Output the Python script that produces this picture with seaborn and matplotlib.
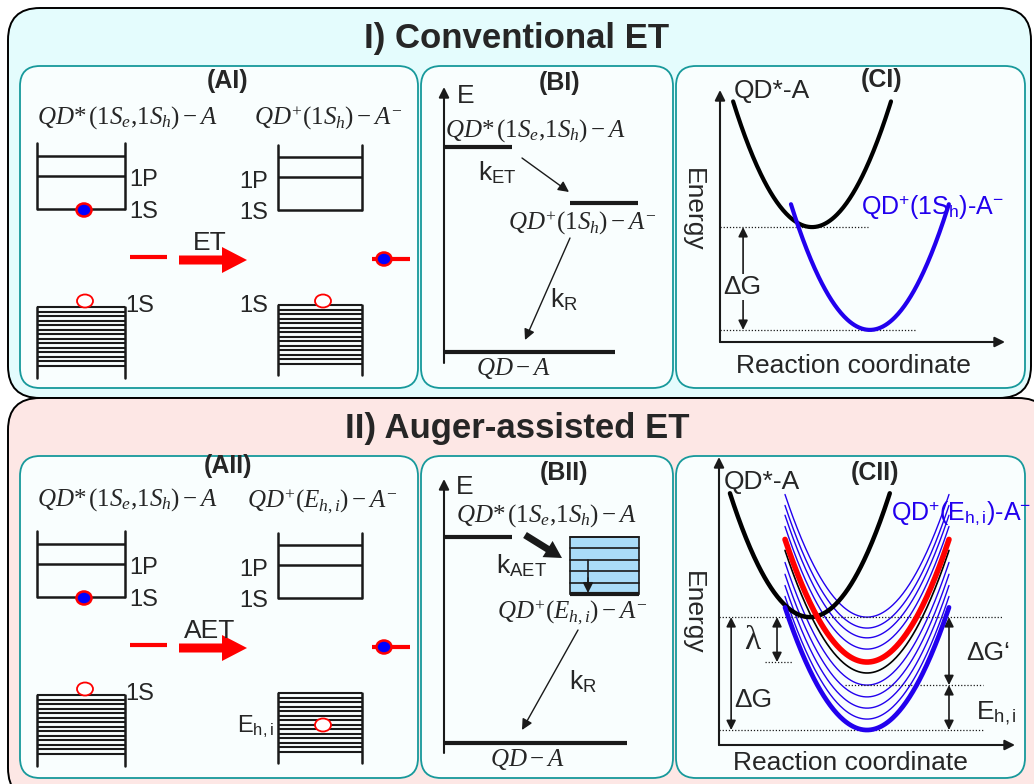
import numpy as np
import pandas as pd
import matplotlib
matplotlib.use("Agg")
import matplotlib.pyplot as plt
import seaborn as sns
from matplotlib.patches import FancyBboxPatch, Ellipse, Rectangle, FancyArrow

# ---------------- values ----------------
panel_titles = ["I) Conventional ET", "II) Auger-assisted ET"]
a_titles = ["(AI)", "(AII)"]
b_titles = ["(BI)", "(BII)"]
c_titles = ["(CI)", "(CII)"]
transfer_labels = ["ET", "AET"]

# conduction-band levels of the QD boxes (1S, 1P, upper level), relative offsets
cb_level_offsets = [0, 33, 53]
vb_sublevels = 14

# CI: diabatic free-energy wells (reaction coordinate centre, minimum energy)
ci_centres = [3.23, 5.26]
ci_minima = [4.56, 0.48]
ci_colors = ["black", "#2200ee"]
ci_curv = 0.65
ci_half = 2.77

# CII: QD*-A well and the family of QD+(E_h,i)-A- wells
cii_black_centre = 3.07
cii_black_min = 4.44
cii_family_centre = 5.0
cii_family_minima = [0.52, 0.90, 1.28, 1.67, 2.08, 2.50, 2.88, 3.33, 3.72, 4.06, 4.44]
cii_family_kind = ["thickblue", "blue", "blue", "blue", "blue", "black",
                   "red", "blue", "blue", "blue", "blue"]
cii_curv = 0.555
cii_half = 2.77

# ---------------- style ----------------
sns.set_theme(style="white")
plt.rcParams["font.family"] = ["Liberation Sans", "DejaVu Sans"]
plt.rcParams["mathtext.fontset"] = "custom"
plt.rcParams["mathtext.rm"] = "Liberation Serif"
plt.rcParams["mathtext.it"] = "Liberation Serif:italic"
plt.rcParams["mathtext.sf"] = "Liberation Sans"
plt.rcParams["mathtext.bf"] = "Liberation Serif:bold"

BLUE = "#2200ee"
TEAL = "#17999b"
CYAN_BG = "#e4fcfd"
PINK_BG = "#fde7e5"
SUB_BG = "#f9fefe"

FS_TITLE = 25
FS_SUB = 18
FS_FORM = 18
FS_LAB = 19
FS_LEV = 17

fig = plt.figure(figsize=(10.34, 7.84), dpi=100)
ax = fig.add_axes([0, 0, 1, 1])
ax.set_xlim(0, 1034)
ax.set_ylim(784, 0)
ax.axis("off")


def rbox(x0, y0, x1, y1, r, fc, ec, lw, z=1):
    p = FancyBboxPatch((x0, y0), x1 - x0, y1 - y0,
                       boxstyle=f"round,pad=0,rounding_size={r}",
                       fc=fc, ec=ec, lw=lw, zorder=z)
    ax.add_patch(p)


# outer panels
rbox(8, 8, 1031, 398, 32, CYAN_BG, "black", 1.4, 1)
rbox(8, 398, 1050, 800, 32, PINK_BG, "black", 1.4, 1)
ax.text(517, 38, panel_titles[0], ha="center", va="center", fontsize=FS_TITLE, fontweight="bold", zorder=5)
ax.text(517, 428, panel_titles[1], ha="center", va="center", fontsize=FS_TITLE, fontweight="bold", zorder=5)

# sub panels
for (y0, y1) in [(66, 388), (456, 778)]:
    rbox(20, y0, 418, y1, 20, SUB_BG, TEAL, 1.3, 2)
    rbox(421, y0, 673, y1, 20, SUB_BG, TEAL, 1.3, 2)
    rbox(676, y0, 1025, y1, 20, SUB_BG, TEAL, 1.3, 2)

Z = 6
LW_BOX = 1.8


def cb_box(x0, x1, y1s, top):
    for off in cb_level_offsets:
        ax.plot([x0, x1], [y1s - off, y1s - off], color="k", lw=LW_BOX, zorder=Z, solid_capstyle="butt")
    ax.plot([x0, x0], [top, y1s], color="k", lw=LW_BOX, zorder=Z)
    ax.plot([x1, x1], [top, y1s], color="k", lw=LW_BOX, zorder=Z)


def vb_box(x0, x1, ytop, ybot):
    ys = np.linspace(ytop, ytop + 59, vb_sublevels)
    for y in ys:
        ax.plot([x0, x1], [y, y], color="k", lw=1.5, zorder=Z, solid_capstyle="butt")
    ax.plot([x0, x0], [ytop, ybot], color="k", lw=LW_BOX, zorder=Z)
    ax.plot([x1, x1], [ytop, ybot], color="k", lw=LW_BOX, zorder=Z)


def electron(x, y):
    ax.add_patch(Ellipse((x, y), 15, 13, fc="blue", ec="red", lw=1.8, zorder=Z + 2))


def hole(x, y):
    ax.add_patch(Ellipse((x, y), 16, 13, fc="white", ec="red", lw=1.3, zorder=Z + 2))


# ---------------- A panels ----------------
formula_left = r"$QD{*}\,(1S_e{,}1S_h)-A$"
formula_right = [r"$QD^{+}(1S_h)-A^{-}$", r"$QD^{+}(E_{h,i})-A^{-}$"]
for k, dy in enumerate([0, 388]):
    ax.text(228, 81 + dy - (3 if k else 0), a_titles[k], ha="center", va="center", fontsize=FS_SUB, fontweight="bold", zorder=Z)
    ax.text(127, 118 + dy - (6 if k else 0), formula_left, ha="center", va="center", fontsize=FS_FORM, zorder=Z)
    ax.text(328 if k == 0 else 322, 118 + dy - (4 if k else 0), formula_right[k], ha="center", va="center", fontsize=FS_FORM, zorder=Z)
    # conduction bands
    cb_box(37, 125, 209 + dy, 143 + dy)
    cb_box(278, 362, 210 + dy, 145 + dy)
    electron(84, 210 + dy)
    ax.text(129, 180 + dy, "1P", ha="left", va="center", fontsize=FS_LEV, zorder=Z)
    ax.text(129, 212 + dy, "1S", ha="left", va="center", fontsize=FS_LEV, zorder=Z)
    ax.text(268, 182 + dy, "1P", ha="right", va="center", fontsize=FS_LEV, zorder=Z)
    ax.text(268, 213 + dy, "1S", ha="right", va="center", fontsize=FS_LEV, zorder=Z)
    # acceptor levels and transfer arrow
    ax.plot([130, 167], [257 + dy, 257 + dy], color="red", lw=3, zorder=Z, solid_capstyle="butt")
    ax.add_patch(FancyArrow(179, 260 + dy, 68, 0, width=9, head_width=26, head_length=25,
                            length_includes_head=True, color="red", lw=0, zorder=Z))
    ax.text(210, 243 + dy, transfer_labels[k], ha="center", va="center", fontsize=FS_LAB, zorder=Z + 1)
    ax.plot([372, 410], [259 + dy, 259 + dy], color="red", lw=3, zorder=Z, solid_capstyle="butt")
    electron(384, 259 + dy)
    # valence bands
    vb_box(37, 125, 307 + dy, 378 + dy)
    hole(85, 301 + dy)
    ax.text(125, 306 + dy, "1S", ha="left", va="center", fontsize=FS_LEV, zorder=Z)
    vb_box(278, 362, 305 + dy, 375 + dy)
    if k == 0:
        hole(323, 301)
        ax.text(268, 306, "1S", ha="right", va="center", fontsize=FS_LEV, zorder=Z)
    else:
        hole(323, 725)
        ax.text(274, 727, r"E$_{\mathsf{h,i}}$", ha="right", va="center", fontsize=FS_LEV, zorder=Z)


# ---------------- B panels ----------------
def thin_arrow(x0, y0, x1, y1, lw=1.0, ms=16):
    ax.annotate("", xy=(x1, y1), xytext=(x0, y0),
                arrowprops=dict(arrowstyle="-|>", color="k", lw=lw, mutation_scale=ms,
                                shrinkA=0, shrinkB=0), zorder=Z)


# BI
ax.text(560, 83, b_titles[0], ha="center", va="center", fontsize=FS_SUB, fontweight="bold", zorder=Z)
thin_arrow(444, 363, 444, 87, lw=1.5, ms=15)
ax.text(457, 96, "E", ha="left", va="center", fontsize=FS_LAB, zorder=Z)
ax.text(445, 131, formula_left, ha="left", va="center", fontsize=FS_FORM, zorder=Z)
ax.plot([444, 512], [147, 147], color="k", lw=3, zorder=Z, solid_capstyle="butt")
thin_arrow(522, 158, 569, 192)
ax.text(497, 173, r"k$_{\mathsf{ET}}$", ha="center", va="center", fontsize=FS_LAB, zorder=Z)
ax.plot([570, 638], [203, 203], color="k", lw=3, zorder=Z, solid_capstyle="butt")
ax.text(582, 223, formula_right[0], ha="center", va="center", fontsize=FS_FORM, zorder=Z)
thin_arrow(570, 238, 525, 340)
ax.text(550, 300, r"k$_{\mathsf{R}}$", ha="left", va="center", fontsize=FS_LAB, zorder=Z)
ax.plot([444, 615], [352, 352], color="k", lw=3, zorder=Z, solid_capstyle="butt")
ax.text(513, 368, r"$QD-A$", ha="center", va="center", fontsize=FS_FORM, zorder=Z)

# BII
ax.text(564, 473, b_titles[1], ha="center", va="center", fontsize=FS_SUB, fontweight="bold", zorder=Z)
thin_arrow(444, 753, 444, 479, lw=1.5, ms=15)
ax.text(456, 487, "E", ha="left", va="center", fontsize=FS_LAB, zorder=Z)
ax.text(456, 516, formula_left, ha="left", va="center", fontsize=FS_FORM, zorder=Z)
ax.plot([444, 512], [537, 537], color="k", lw=3, zorder=Z, solid_capstyle="butt")
ax.add_patch(FancyArrow(525, 535, 37, 23, width=7, head_width=19, head_length=17,
                        length_includes_head=True, color="k", lw=0, zorder=Z))
ax.text(496, 566, r"k$_{\mathsf{AET}}$", ha="left", va="center", fontsize=FS_LAB, zorder=Z)
ax.add_patch(Rectangle((570, 537), 69, 57, fc="#aadcf8", ec="k", lw=1.2, zorder=Z))
for y in np.linspace(537, 594, 6)[:-1]:
    ax.plot([570, 639], [y, y], color="k", lw=1.2, zorder=Z + 1)
ax.plot([570, 639], [594, 594], color="k", lw=3, zorder=Z + 1, solid_capstyle="butt")
ax.plot([588, 588], [560, 582], color="k", lw=1.2, zorder=Z + 1)
ax.annotate("", xy=(588, 593), xytext=(588, 578),
            arrowprops=dict(arrowstyle="-|>", color="k", lw=1.2, mutation_scale=15,
                            shrinkA=0, shrinkB=0), zorder=Z + 1)
ax.text(572, 613, formula_right[1], ha="center", va="center", fontsize=FS_FORM, zorder=Z)
thin_arrow(578, 630, 522, 730)
ax.text(569, 682, r"k$_{\mathsf{R}}$", ha="left", va="center", fontsize=FS_LAB, zorder=Z)
ax.plot([444, 627], [743, 743], color="k", lw=3, zorder=Z, solid_capstyle="butt")
ax.text(527, 760, r"$QD-A$", ha="center", va="center", fontsize=FS_FORM, zorder=Z)


# ---------------- C panels ----------------
def inset(px0, py0, px1, py1):
    a = fig.add_axes([px0 / 1034, (784 - py1) / 784, (px1 - px0) / 1034, (py1 - py0) / 784])
    a.set_xlim(0, 10)
    a.set_ylim(0, 10)
    a.axis("off")
    a.patch.set_visible(False)
    a.annotate("", xy=(0, 1), xytext=(0, 0), xycoords="axes fraction",
               arrowprops=dict(arrowstyle="-|>", color="k", lw=1.5, mutation_scale=15, shrinkA=0, shrinkB=0))
    a.annotate("", xy=(1, 0), xytext=(0, 0), xycoords="axes fraction",
               arrowprops=dict(arrowstyle="-|>", color="k", lw=1.5, mutation_scale=15, shrinkA=0, shrinkB=0))
    return a


def well(a, xc, ymin, k, half, color, lw, z):
    x = np.linspace(xc - half, xc + half, 200)
    df = pd.DataFrame({"q": x, "E": ymin + k * (x - xc) ** 2})
    sns.lineplot(data=df, x="q", y="E", ax=a, color=color, lw=lw, sort=False,
                 estimator=None, legend=False, zorder=z)
    a.lines[-1].set_clip_on(False)


def darrow(a, x, y0, y1):
    a.annotate("", xy=(x, y1), xytext=(x, y0),
               arrowprops=dict(arrowstyle="<|-|>", color="k", lw=1.2, mutation_scale=14,
                               shrinkA=0, shrinkB=0))


def hline(a, y, x0, x1):
    a.plot([x0, x1], [y, y], color="k", lw=0.9, ls=(0, (1, 1.5)), clip_on=False)


# CI
aC1 = inset(720, 90, 1005, 342)
for xc, ym, col in zip(ci_centres, ci_minima, ci_colors):
    well(aC1, xc, ym, ci_curv, ci_half, col, 3.0, 3)
hline(aC1, ci_minima[0], 0, 5.19)
hline(aC1, ci_minima[1], 0, 6.84)
darrow(aC1, 0.81, ci_minima[1], ci_minima[0])
aC1.set_xlabel("")
aC1.set_ylabel("")
ax.text(882, 80, c_titles[0], ha="center", va="center", fontsize=FS_SUB, fontweight="bold", zorder=Z)
ax.text(693, 210, "Energy", rotation=-90, ha="center", va="center", fontsize=FS_LAB, zorder=Z)
ax.text(853, 366, "Reaction coordinate", ha="center", va="center", fontsize=FS_LAB, zorder=Z)
ax.text(772, 91, "QD*-A", ha="center", va="center", fontsize=FS_LAB, zorder=Z)
ax.text(861, 207, r"QD$^{\mathsf{+}}$(1S$_{\mathsf{h}}$)-A$^{\mathsf{-}}$", ha="left", va="center",
        fontsize=18, color=BLUE, zorder=Z)

# CII
aC2 = inset(719, 457, 1015, 745)
for ym, kind in zip(cii_family_minima, cii_family_kind):
    if kind == "blue":
        well(aC2, cii_family_centre, ym, cii_curv, cii_half, BLUE, 1.0, 2)
well(aC2, cii_black_centre, cii_black_min, 0.59, 2.7, "black", 3.2, 3)
for ym, kind in zip(cii_family_minima, cii_family_kind):
    if kind == "black":
        well(aC2, cii_family_centre, ym, cii_curv, cii_half, "black", 1.2, 4)
    elif kind == "red":
        well(aC2, cii_family_centre, ym, cii_curv, cii_half, "red", 4.0, 5)
    elif kind == "thickblue":
        well(aC2, cii_family_centre, ym, cii_curv, cii_half, BLUE, 3.4, 5)
top = cii_family_minima[-1]
bot = cii_family_minima[0]
mid = cii_family_minima[4]
lam = cii_family_minima[6]
hline(aC2, top, 0, 9.6)
hline(aC2, lam, 1.55, 2.5)
hline(aC2, mid, 4.26, 8.92)
hline(aC2, bot, 0, 8.92)
darrow(aC2, 0.41, bot, top)
darrow(aC2, 1.96, lam, top)
darrow(aC2, 7.77, mid, top)
darrow(aC2, 7.77, bot, mid)
aC2.set_xlabel("")
aC2.set_ylabel("")
ax.text(875, 473, c_titles[1], ha="center", va="center", fontsize=FS_SUB, fontweight="bold", zorder=Z)
ax.text(693, 613, "Energy", rotation=-90, ha="center", va="center", fontsize=FS_LAB, zorder=Z)
ax.text(850, 763, "Reaction coordinate", ha="center", va="center", fontsize=FS_LAB, zorder=Z)
ax.text(762, 482, "QD*-A", ha="center", va="center", fontsize=FS_LAB, zorder=Z)
ax.text(891, 513, r"QD$^{\mathsf{+}}$(E$_{\mathsf{h,i}}$)-A$^{\mathsf{-}}$", ha="left", va="center",
        fontsize=18, color=BLUE, zorder=Z)

# text labels drawn on top of the inset axes
ax2 = fig.add_axes([0, 0, 1, 1])
ax2.set_xlim(0, 1034)
ax2.set_ylim(784, 0)
ax2.axis("off")
ax2.patch.set_visible(False)
ax2.text(742, 287, "ΔG", ha="center", va="center", fontsize=FS_LAB,
         bbox=dict(fc=SUB_BG, ec="none", pad=1))
ax2.text(753, 700, "ΔG", ha="center", va="center", fontsize=FS_LAB)
ax2.text(752, 641, "λ", ha="center", va="center", fontsize=24, family="Liberation Serif")
ax2.text(988, 653, "ΔG‘", ha="center", va="center", fontsize=FS_LAB)
ax2.text(996, 713, r"E$_{\mathsf{h,i}}$", ha="center", va="center", fontsize=FS_LAB)

fig.savefig("out.png", dpi=100)
